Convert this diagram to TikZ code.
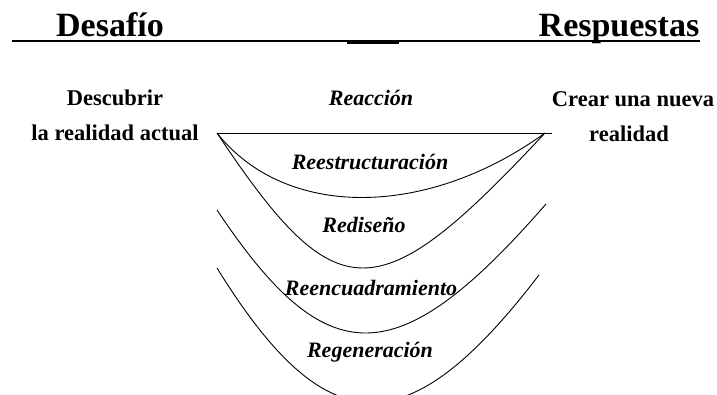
\documentclass[tikz,border=0pt]{standalone}
\usepackage{fontspec}
\setmainfont{Liberation Serif}
\begin{document}
\begin{tikzpicture}[x=1pt,y=-1pt,
  head/.style={font=\fontsize{34}{40}\selectfont\bfseries, inner sep=0pt, anchor=base},
  lab/.style={font=\fontsize{22.5}{26}\selectfont\bfseries, inner sep=0pt, anchor=base},
  stage/.style={font=\fontsize{22}{26}\selectfont\bfseries\itshape, inner sep=0pt, anchor=base},
  curve/.style={line width=0.9pt, line join=miter}]
\useasboundingbox (0,0) rectangle (717,395);
% header
\node[head] (desafio) at (110,37) {Desafío};
\node[head] (resp) at (619,37) {Respuestas};
\coordinate (ul1) at (12,41);
\coordinate (ul2) at (700,41);
\draw[line width=1.3pt] (ul1) -- (ul2);
\coordinate (gap1) at (347,42.3);
\coordinate (gap2) at (399,42.3);
\draw[line width=3pt] (gap1) -- (gap2);
% side labels
\node[lab] (d1) at (115,106) {Descubrir};
\node[lab] (d2) at (115,141) {la realidad actual};
\node[lab] (c1) at (633,107) {Crear una nueva};
\node[lab] (c2) at (629,142) {realidad};
% stage labels
\node[stage] (reac) at (371,106) {Reacción};
\node[stage] (rees) at (370,170) {Reestructuración};
\node[stage] (redi) at (364,233) {Rediseño};
\node[stage] (reen) at (371,295) {Reencuadramiento};
\node[stage] (rege) at (370,357) {Regeneración};
% curves
\coordinate (L) at (217,133);
\coordinate (R) at (545,133);
\coordinate (Rx) at (552,133);
\draw[curve] (L) -- (Rx);
\draw[curve] (L) .. controls (285,219) and (426,219) .. (R);
\draw[curve] (L) .. controls (337,313) and (377,313) .. (R);
\coordinate (a3) at (217,210);
\coordinate (b3) at (546,204);
\draw[curve] (a3) .. controls (327,375) and (397,375) .. (b3);
\coordinate (a4) at (217,268);
\coordinate (b4) at (539,275);
\draw[curve] (a4) .. controls (327,446) and (408,446) .. (b4);
\end{tikzpicture}
\end{document}
